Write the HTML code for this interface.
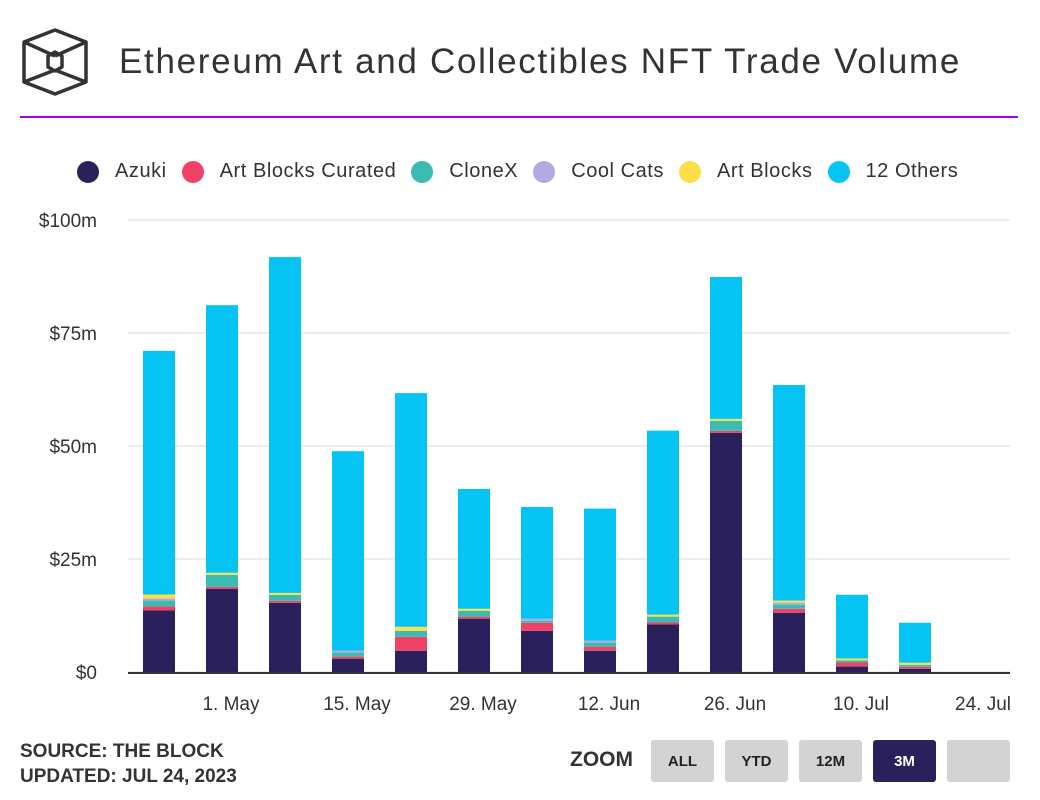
<!DOCTYPE html>
<html><head><meta charset="utf-8">
<style>
body{margin:0;width:1040px;height:800px;background:#fff;font-family:"Liberation Sans",sans-serif;overflow:hidden;position:relative}
.title{position:absolute;left:119px;top:42px;font-size:35px;color:#333;letter-spacing:1.7px;white-space:nowrap}
.rule{position:absolute;left:20px;top:116px;width:998px;height:2px;background:#a100f2}
.legend{position:absolute;top:160px;left:77px;font-size:20px;color:#333;display:flex;white-space:nowrap;letter-spacing:0.55px}
.legend span.item{display:flex;align-items:center;margin-right:15px}
.legend i{display:inline-block;width:22px;height:22px;border-radius:50%;margin-right:16px}
.src{position:absolute;left:20px;top:739px;font-size:19px;font-weight:bold;color:#333;line-height:25px}
.zoom{position:absolute;left:570px;top:748px;font-size:21px;font-weight:bold;color:#333}
.btn{position:absolute;top:740px;width:63px;height:42px;background:#d3d3d3;border-radius:3px;font-size:15px;font-weight:bold;color:#222;text-align:center;line-height:44px}
</style></head><body>
<svg style="position:absolute;left:20px;top:26px" width="72" height="72" viewBox="0 0 72 72">
<g fill="none" stroke="#333" stroke-width="3.5" stroke-linejoin="round">
<polygon points="35,4 66,16 66,56 35,68 4,56 4,16"/>
<line x1="4" y1="16" x2="35" y2="30"/><line x1="66" y1="16" x2="35" y2="30"/>
<line x1="4" y1="56" x2="35" y2="44"/><line x1="66" y1="56" x2="35" y2="44"/>
<polygon points="35,26 42,30 42,41 35,45 28,41 28,30"/>
</g></svg>
<div class="title">Ethereum Art and Collectibles NFT Trade Volume</div>
<div class="rule"></div>
<div class="legend">
<span class="item"><i style="background:#2a215c"></i>Azuki</span>
<span class="item"><i style="background:#ef4267"></i>Art Blocks Curated</span>
<span class="item"><i style="background:#3bbcb2"></i>CloneX</span>
<span class="item"><i style="background:#b4a9e2"></i>Cool Cats</span>
<span class="item"><i style="background:#fddf47"></i>Art Blocks</span>
<span class="item"><i style="background:#05c3f2"></i>12 Others</span>
</div>
<svg id="chart" style="position:absolute;left:0;top:0" width="1040" height="730"></svg>
<div class="src">SOURCE: THE BLOCK<br>UPDATED: JUL 24, 2023</div>
<div class="zoom">ZOOM</div>
<div class="btn" style="left:651px">ALL</div>
<div class="btn" style="left:725px">YTD</div>
<div class="btn" style="left:799px">12M</div>
<div class="btn" style="left:873px;background:#2a215c;color:#fff">3M</div>
<div class="btn" style="left:947px"></div>
<script>
// days relative to 1 May
const weekDays=[-8,-1,6,13,20,27,34,41,48,55,62,69,76];
const azuki=[13.6,18.4,15.3,2.95,4.7,11.8,9.1,4.7,10.5,52.9,13.1,1.2,0.7];
const abCurated=[0.9,0.45,0.45,0.45,3.1,0.45,1.8,0.9,0.45,0.45,0.9,0.9,0.45];
const clonex=[1.3,2.65,1.3,0.9,1.3,1.3,0.45,0.9,1.3,2.2,0.9,0.45,0.45];
const coolCats=[0.45,0,0,0.45,0,0,0.45,0.45,0,0,0.45,0,0];
const artBlocks=[0.9,0.45,0.45,0,0.9,0.45,0,0,0.45,0.45,0.45,0.45,0.45];
const others=[53.9,59.2,74.3,44.1,51.7,26.5,24.7,29.2,40.7,31.4,47.7,14.1,8.85];
const yTicks=[0,25,50,75,100];
const yTickLabels=["$0","$25m","$50m","$75m","$100m"];
const xTickDays=[0,14,28,42,56,70,84];
const xTickLabels=["1. May","15. May","29. May","12. Jun","26. Jun","10. Jul","24. Jul"];
const series=[["azuki",azuki,"#2a215c"],["art-blocks-curated",abCurated,"#ef4267"],["clonex",clonex,"#3bbcb2"],["cool-cats",coolCats,"#b4a9e2"],["art-blocks",artBlocks,"#fddf47"],["12-others",others,"#05c3f2"]];
const y=v=>672-v*4.52;
const x=d=>231+d*9;
const svg=document.getElementById('chart');
const NS="http://www.w3.org/2000/svg";
function mk(t,a){const e=document.createElementNS(NS,t);for(const k in a)e.setAttribute(k,a[k]);svg.appendChild(e);return e;}
yTicks.forEach((v,i)=>{
  const g=mk('line',{x1:128,x2:1010,y1:y(v),y2:y(v),stroke:'#ececec','stroke-width':2});
  
  
  const t=mk('text',{x:97,y:y(v)+7,'text-anchor':'end','font-size':19,fill:'#333','font-family':'Liberation Sans, sans-serif'});
  t.textContent=yTickLabels[i];
  
  
});
weekDays.forEach((d,i)=>{
  let base=0;
  series.forEach(s=>{
    const v=s[1][i];
    if(v>0){
      const r=mk('rect',{x:x(d)-16,y:y(base+v),width:32,height:v*4.52,fill:s[2]});
      
      
    }
    base+=v;
  });
});
const ax=mk('line',{x1:128,x2:1010,y1:673,y2:673,stroke:'#333','stroke-width':2});


xTickDays.forEach((d,i)=>{
  const t=mk('text',{x:Math.min(x(d),983),y:710,'text-anchor':'middle','font-size':19,fill:'#333','font-family':'Liberation Sans, sans-serif'});
  t.textContent=xTickLabels[i];
  
  
});
</script>
</body></html>
